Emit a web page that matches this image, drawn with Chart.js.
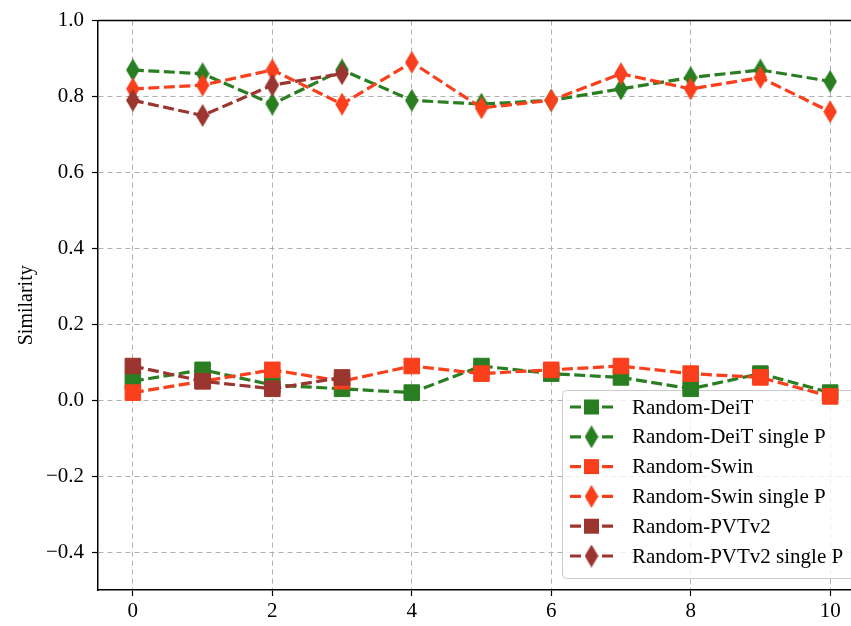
<!DOCTYPE html>
<html lang="en">
<head>
    <meta charset="UTF-8">
    <title>Similarity</title>
    <script src="https://cdn.jsdelivr.net/npm/chart.js"></script>
    <style>
        html, body {
            margin: 0;
            padding: 0;
            background: #ffffff;
            overflow: hidden;
        }
        #chartBox {
            width: 880px;
            height: 626px;
        }
    </style>
</head>
<body>
    <div id="chartBox">
        <canvas id="similarityChart" width="880" height="626"></canvas>
    </div>

    <script>
        // data
        const xValues = [0, 1, 2, 3, 4, 5, 6, 7, 8, 9, 10];
        const deitValues = [0.05, 0.08, 0.04, 0.03, 0.02, 0.09, 0.07, 0.06, 0.03, 0.07, 0.02];
        const deitSingleValues = [0.87, 0.86, 0.78, 0.87, 0.79, 0.78, 0.79, 0.82, 0.85, 0.87, 0.84];
        const swinValues = [0.02, 0.05, 0.08, 0.05, 0.09, 0.07, 0.08, 0.09, 0.07, 0.06, 0.01];
        const swinSingleValues = [0.82, 0.83, 0.87, 0.78, 0.89, 0.77, 0.79, 0.86, 0.82, 0.85, 0.76];
        const pvtValues = [0.09, 0.05, 0.03, 0.06];
        const pvtSingleValues = [0.79, 0.75, 0.83, 0.86];

        const seriesLabels = ['Random-DeiT', 'Random-DeiT single P', 'Random-Swin',
                              'Random-Swin single P', 'Random-PVTv2', 'Random-PVTv2 single P'];
        const xTicks = [0, 2, 4, 6, 8, 10];
        const yTicks = [-0.4, -0.2, 0.0, 0.2, 0.4, 0.6, 0.8, 1.0];

        const GREEN = '#2a7e22';
        const RED = '#fa3f1c';
        const BROWN = '#9b3530';
        const FONT = '"Liberation Serif", "DejaVu Serif", serif';

        // thin diamond marker (matplotlib 'd')
        function thinDiamond(color) {
            const c = document.createElement('canvas');
            c.width = 14;
            c.height = 23;
            const g = c.getContext('2d');
            g.fillStyle = color;
            g.beginPath();
            g.moveTo(7, 0);
            g.lineTo(13.8, 11.5);
            g.lineTo(7, 23);
            g.lineTo(0.2, 11.5);
            g.closePath();
            g.fill();
            return c;
        }

        function toPoints(vals) {
            return vals.map((v, i) => ({ x: xValues[i], y: v }));
        }

        const colors = [GREEN, GREEN, RED, RED, BROWN, BROWN];
        const valueSets = [deitValues, deitSingleValues, swinValues, swinSingleValues, pvtValues, pvtSingleValues];
        const diamonds = colors.map(c => thinDiamond(c));

        const datasets = valueSets.map((vals, i) => {
            const isDiamond = i % 2 === 1;
            return {
                label: seriesLabels[i],
                data: toPoints(vals),
                borderColor: colors[i],
                backgroundColor: colors[i],
                borderWidth: 3.2,
                borderDash: [11, 4.5],
                pointStyle: isDiamond ? diamonds[i] : 'rect',
                pointRadius: 11,
                pointBorderWidth: 1,
                pointBorderColor: colors[i],
                pointBackgroundColor: colors[i],
                tension: 0,
                order: 5 - i   // later series on top, like matplotlib
            };
        });

        // legend box inside the plot, under the data
        const legendBox = {
            id: 'legendBox',
            beforeDatasetsDraw(chart) {
                const ctx = chart.ctx;
                ctx.save();
                const bx = 562.5, by = 390.5, bw = 310, bh = 188;
                ctx.fillStyle = 'rgba(255,255,255,0.8)';
                ctx.strokeStyle = '#cccccc';
                ctx.lineWidth = 1;
                ctx.beginPath();
                ctx.roundRect(bx, by, bw, bh, 4);
                ctx.fill();
                ctx.stroke();

                ctx.font = '21px ' + FONT;
                ctx.textBaseline = 'middle';
                ctx.textAlign = 'left';
                seriesLabels.forEach((label, i) => {
                    const y = 407 + i * 29.8;
                    const col = colors[i];
                    ctx.strokeStyle = col;
                    ctx.lineWidth = 3.2;
                    ctx.beginPath();
                    ctx.moveTo(570, y);
                    ctx.lineTo(581, y);
                    ctx.moveTo(602, y);
                    ctx.lineTo(613, y);
                    ctx.stroke();
                    ctx.fillStyle = col;
                    if (i % 2 === 1) {
                        const d = diamonds[i];
                        ctx.drawImage(d, 591.5 - d.width / 2, y - d.height / 2);
                    } else {
                        ctx.fillRect(584, y - 7.5, 15, 15);
                    }
                    ctx.fillStyle = '#000';
                    ctx.fillText(label, 632, y + 1);
                });
                ctx.restore();
            }
        };

        // top and right spines
        const spines = {
            id: 'spines',
            afterDraw(chart) {
                const ctx = chart.ctx;
                const area = chart.chartArea;
                ctx.save();
                ctx.strokeStyle = '#000';
                ctx.lineWidth = 1.5;
                ctx.beginPath();
                ctx.moveTo(area.left, area.top);
                ctx.lineTo(area.right, area.top);
                ctx.lineTo(area.right, area.bottom);
                ctx.stroke();
                ctx.restore();
            }
        };

        const fmt = v => (v < 0 ? '\u2212' : '') + Math.abs(v).toFixed(1);

        new Chart(document.getElementById('similarityChart'), {
            type: 'line',
            data: { datasets: datasets },
            options: {
                responsive: false,
                animation: false,
                layout: { padding: { top: 17, right: 15, left: 0, bottom: 0 } },
                plugins: {
                    legend: { display: false },
                    tooltip: { enabled: false }
                },
                scales: {
                    x: {
                        type: 'linear',
                        min: -0.5,
                        max: 10.5,
                        afterBuildTicks: s => { s.ticks = xTicks.map(v => ({ value: v })); },
                        afterFit: s => { s.height = 36; },
                        ticks: {
                            color: '#000',
                            padding: 3,
                            font: { family: FONT, size: 21 },
                            callback: v => String(v)
                        },
                        grid: {
                            color: '#b0b0b0',
                            lineWidth: 1,
                            tickLength: 6,
                            tickColor: '#000',
                            tickWidth: 1.2,
                            tickBorderDash: []
                        },
                        border: { display: true, color: '#000', width: 1.5, dash: [5, 4] }
                    },
                    y: {
                        type: 'linear',
                        min: -0.5,
                        max: 1.0,
                        afterBuildTicks: s => { s.ticks = yTicks.map(v => ({ value: v })); },
                        afterFit: s => { s.width = 98; },
                        ticks: {
                            color: '#000',
                            padding: 8,
                            font: { family: FONT, size: 21 },
                            callback: v => fmt(v)
                        },
                        grid: {
                            color: '#b0b0b0',
                            lineWidth: 1,
                            tickLength: 6,
                            tickColor: '#000',
                            tickWidth: 1.2,
                            tickBorderDash: []
                        },
                        border: { display: true, color: '#000', width: 1.5, dash: [5, 4] },
                        title: {
                            display: true,
                            text: 'Similarity',
                            color: '#000',
                            font: { family: FONT, size: 20 },
                            padding: { top: 15, bottom: 0 }
                        }
                    }
                }
            },
            plugins: [legendBox, spines]
        });
    </script>
</body>
</html>
